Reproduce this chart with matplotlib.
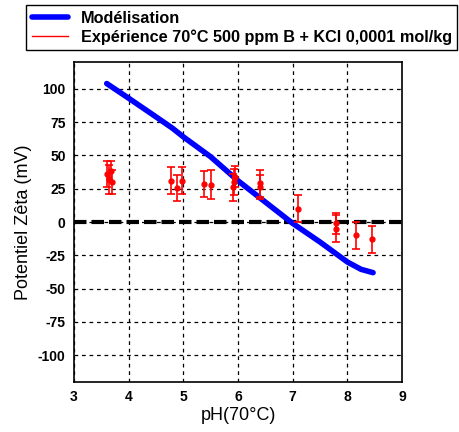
import numpy as np
import matplotlib
matplotlib.use("Agg")
import matplotlib.pyplot as plt

plt.rcParams["font.family"] = ["Liberation Sans", "DejaVu Sans"]
plt.rcParams["axes.unicode_minus"] = False

# model curve
model_ph = [3.60, 4.00, 4.50, 4.80, 5.00, 5.50, 6.00, 6.50, 7.00, 7.50, 7.80, 8.00, 8.25, 8.47]
model_zeta = [104, 93, 79, 70.5, 64, 49, 31, 15, -1, -15, -24, -30, -35.5, -38]

# experimental points
exp_ph = [3.60, 3.64, 3.67, 3.70, 4.78, 4.89, 4.98, 5.37, 5.50, 5.90, 5.93, 5.95,
          6.40, 6.41, 7.10, 7.79, 7.80, 8.15, 8.45]
exp_zeta = [36, 32, 38, 30, 31, 25.5, 31, 28.5, 28, 26, 30, 34,
            29, 26, 10, -1, -5, -10, -13]
exp_err = [10, 11, 8, 9, 10, 10, 10, 10, 11, 10, 10, 8,
           10, 9, 10, 8, 10, 10, 10]

fig = plt.figure(figsize=(4.59, 4.32), dpi=100)
ax = fig.add_axes([0.161, 0.116, 0.715, 0.740])

ax.grid(True, color="black", linestyle=(0, (3, 3)), linewidth=0.9)
ax.axhline(0, color="black", linewidth=3, linestyle=(0, (3, 1.2)), zorder=2)

l1, = ax.plot(model_ph, model_zeta, color="#0000ff", linewidth=4, zorder=3,
              solid_capstyle="round")
eb = ax.errorbar(exp_ph, exp_zeta, yerr=exp_err, fmt="o", color="red",
                 markersize=3.5, elinewidth=1.2, capsize=3, capthick=1.2, zorder=4)
l2, = ax.plot([], [], color="red", linewidth=1)

ax.set_xlim(3, 9)
ax.set_ylim(-120, 120)
ax.set_xticks([3, 4, 5, 6, 7, 8, 9])
ax.set_yticks([100, 75, 50, 25, 0, -25, -50, -75, -100])
ax.tick_params(length=0, labelsize=10, pad=6)
for lab in ax.get_xticklabels() + ax.get_yticklabels():
    lab.set_fontweight("bold")
for sp in ax.spines.values():
    sp.set_linewidth(1.2)

ax.set_xlabel("pH(70°C)", fontsize=13, labelpad=2)
ax.set_ylabel("Potentiel Zêta (mV)", fontsize=13, labelpad=4)

leg = fig.legend([l1, l2], ["Modélisation", "Expérience 70°C 500 ppm B + KCl 0,0001 mol/kg"],
                 loc="upper left", bbox_to_anchor=(0.057, 0.988),
                 prop={"weight": "bold", "size": 11.7}, fancybox=False,
                 edgecolor="black", framealpha=1, borderpad=0.35,
                 labelspacing=0.2, handlelength=2.2, borderaxespad=0)
leg.get_frame().set_linewidth(1)
leg.get_lines()[0].set_linewidth(4)

fig.savefig("out.png", dpi=100)
